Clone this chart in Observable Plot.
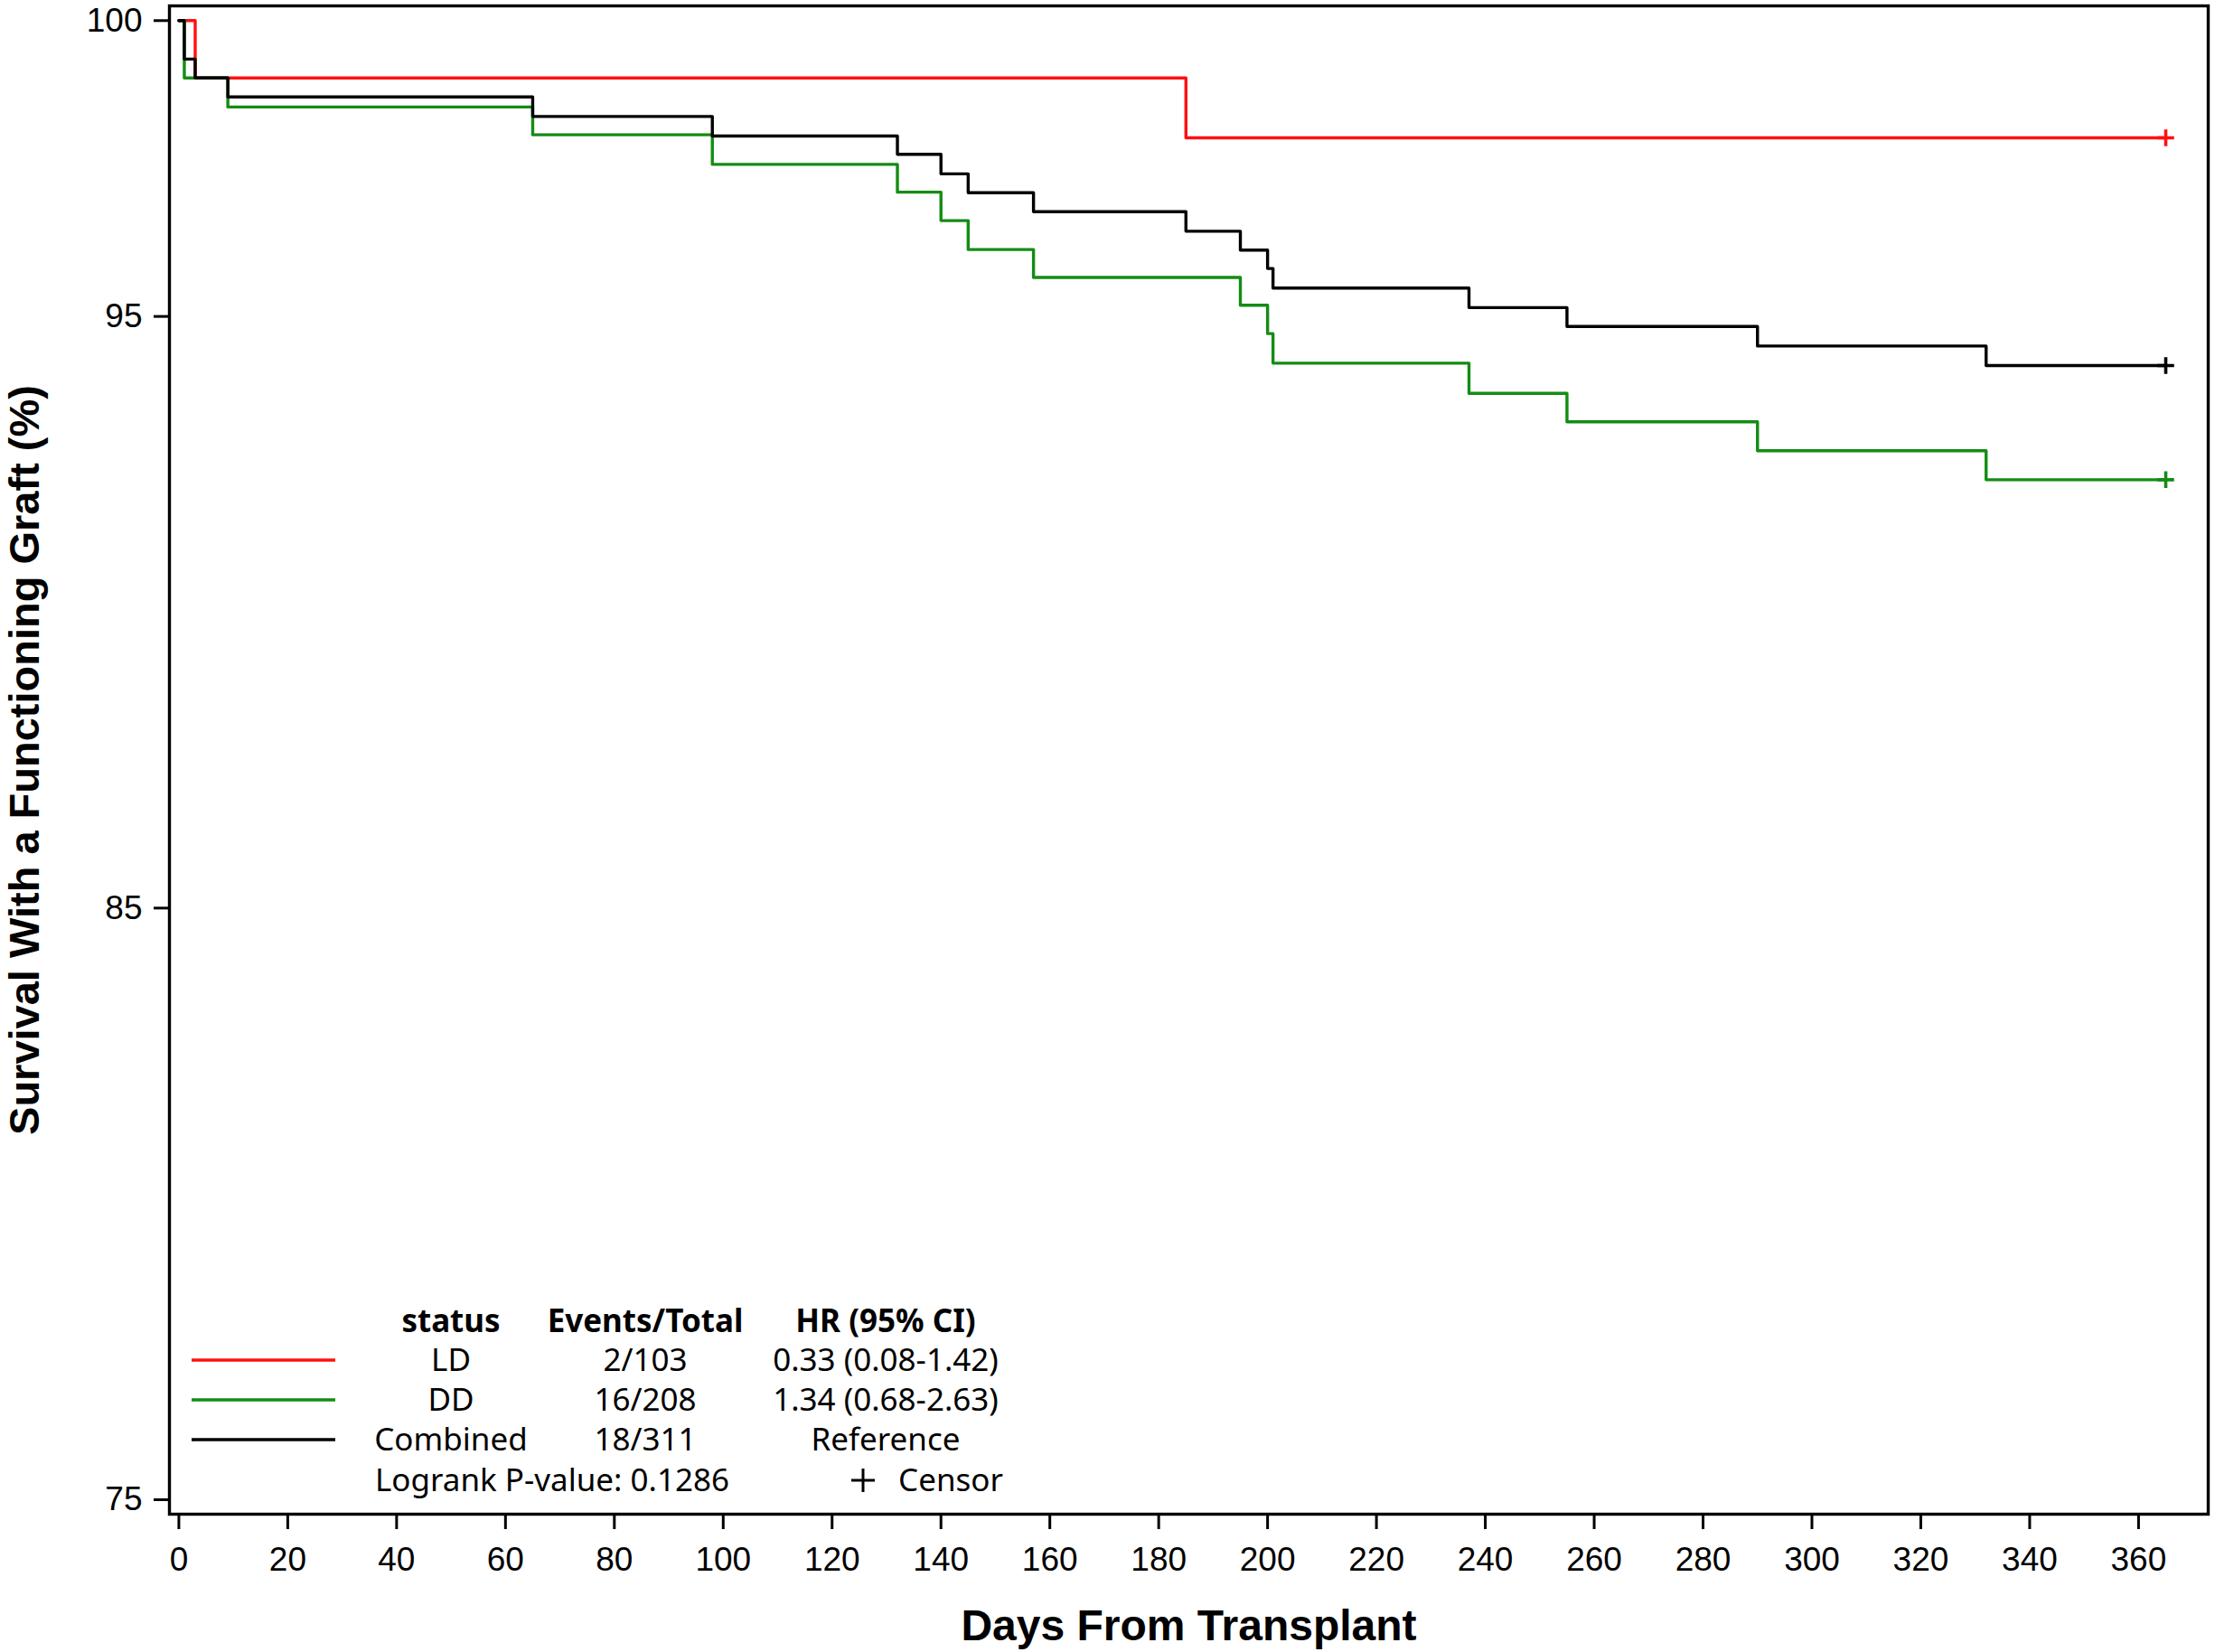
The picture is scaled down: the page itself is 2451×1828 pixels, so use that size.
<!DOCTYPE html>
<html>
<head>
<meta charset="utf-8">
<script src="https://cdn.jsdelivr.net/npm/d3@7"></script>
<script src="https://cdn.jsdelivr.net/npm/@observablehq/plot@0.6"></script>
<style>
  html, body { margin: 0; padding: 0; background: #fff; }
  #chart { width: 2451px; height: 1828px; }
</style>
</head>
<body>
<div id="chart"></div>
<script>
// ---- data ----
const ldDays = [0, 3, 185, 365];
const ldSurv = [100, 99.03, 98.02, 98.02];

const ddDays = [0, 1, 9, 65, 98, 132, 140, 145, 157, 195, 200, 201, 237, 255, 290, 332, 365];
const ddSurv = [100, 99.03, 98.54, 98.07, 97.57, 97.10, 96.62, 96.13, 95.66, 95.19, 94.71, 94.21, 93.70, 93.22, 92.73, 92.24, 92.24];

const coDays = [0, 1, 3, 9, 65, 98, 132, 140, 145, 157, 185, 195, 200, 201, 237, 255, 290, 332, 365];
const coSurv = [100, 99.35, 99.03, 98.71, 98.38, 98.05, 97.74, 97.41, 97.09, 96.77, 96.44, 96.12, 95.81, 95.48, 95.15, 94.83, 94.50, 94.17, 94.17];

const censorDay = 365;

const xTicks = [0, 20, 40, 60, 80, 100, 120, 140, 160, 180, 200, 220, 240, 260, 280, 300, 320, 340, 360];
const yTicks = [75, 85, 95, 100];

const seriesNames = ["LD", "DD", "Combined"];
const seriesColors = ["#ff1010", "#148c14", "#000000"];
const eventsTotal = ["2/103", "16/208", "18/311"];
const hrText = ["0.33 (0.08-1.42)", "1.34 (0.68-2.63)", "Reference"];
const legendHeaders = ["status", "Events/Total", "HR (95% CI)"];
const logrankText = "Logrank P-value: 0.1286";
const censorText = "Censor";

const xTitle = "Days From Transplant";
const yTitle = "Survival With a Functioning Graft (%)";

// ---- build tables ----
const toRows = (days, surv) => days.map((d, i) => ({day: d, surv: surv[i]}));
const ld = toRows(ldDays, ldSurv);
const dd = toRows(ddDays, ddSurv);
const co = toRows(coDays, coSurv);
const censors = [
  {day: censorDay, surv: ldSurv[ldSurv.length - 1], c: seriesColors[0]},
  {day: censorDay, surv: ddSurv[ddSurv.length - 1], c: seriesColors[1]},
  {day: censorDay, surv: coSurv[coSurv.length - 1], c: seriesColors[2]}
];

const W = 2451, H = 1828;
const mL = 187, mR = 8, mT = 6, mB = 153;

const svg = Plot.plot({
  width: W,
  height: H,
  marginLeft: mL,
  marginRight: mR,
  marginTop: mT,
  marginBottom: mB,
  style: {fontFamily: "'Liberation Sans', Arial, sans-serif", fontSize: "36px", background: "#fff", color: "#000"},
  x: {domain: [-1.73, 372.8]},
  y: {domain: [74.756, 100.249]},
  marks: [
    Plot.axisX({ticks: xTicks, tickSize: 17, tickPadding: 19, strokeWidth: 3, label: null, fontSize: 37}),
    Plot.axisY({ticks: yTicks, tickSize: 17, tickPadding: 13, strokeWidth: 3, label: null, fontSize: 37}),
    Plot.line(ld, {x: "day", y: "surv", curve: "step-after", stroke: seriesColors[0], strokeWidth: 3.4}),
    Plot.line(dd, {x: "day", y: "surv", curve: "step-after", stroke: seriesColors[1], strokeWidth: 3.4}),
    Plot.line(co, {x: "day", y: "surv", curve: "step-after", stroke: seriesColors[2], strokeWidth: 3.4}),
    Plot.dot(censors, {x: "day", y: "surv", symbol: "plus", r: 6, stroke: "c", fill: "none", strokeWidth: 3.6}),
    Plot.frame({stroke: "#000", strokeWidth: 3.4}),
    Plot.text([xTitle], {frameAnchor: "bottom", dy: 139, textAnchor: "middle", fontSize: 48, fontWeight: "bold", fill: "#000"}),
    Plot.text([yTitle], {frameAnchor: "left", dx: -160, textAnchor: "middle", rotate: -90, fontSize: 47, fontWeight: "bold", fill: "#000"})
  ]
});

document.getElementById("chart").appendChild(svg);

// ---- legend (inset, lower left of the plot) ----
const g = d3.select(svg).append("g")
  .attr("font-family", "'Noto Sans', 'Open Sans', sans-serif")
  .attr("font-size", 35)
  .attr("fill", "#000");

const colX = [499, 714, 980];
const headerY = 1474;
const rowY = [1517, 1561, 1605];
const lineX0 = 212, lineX1 = 371;

g.selectAll("text.hdr").data(legendHeaders).join("text")
  .attr("class", "hdr")
  .attr("x", (d, i) => colX[i]).attr("y", headerY)
  .attr("text-anchor", "middle").attr("font-weight", "bold")
  .text(d => d);

seriesNames.forEach((name, i) => {
  g.append("line")
    .attr("x1", lineX0).attr("x2", lineX1)
    .attr("y1", rowY[i] - 12).attr("y2", rowY[i] - 12)
    .attr("stroke", seriesColors[i]).attr("stroke-width", 3.3);
  g.append("text").attr("x", colX[0]).attr("y", rowY[i]).attr("text-anchor", "middle").text(name);
  g.append("text").attr("x", colX[1]).attr("y", rowY[i]).attr("text-anchor", "middle").text(eventsTotal[i]);
  g.append("text").attr("x", colX[2]).attr("y", rowY[i]).attr("text-anchor", "middle").text(hrText[i]);
});

g.append("text").attr("x", 415).attr("y", 1650).attr("text-anchor", "start").text(logrankText);
g.append("text").attr("x", 1110).attr("y", 1650).attr("text-anchor", "end").text(censorText);
g.append("path")
  .attr("d", "M942,1638H968M955,1625V1651")
  .attr("stroke", "#000").attr("stroke-width", 3);
</script>
</body>
</html>
